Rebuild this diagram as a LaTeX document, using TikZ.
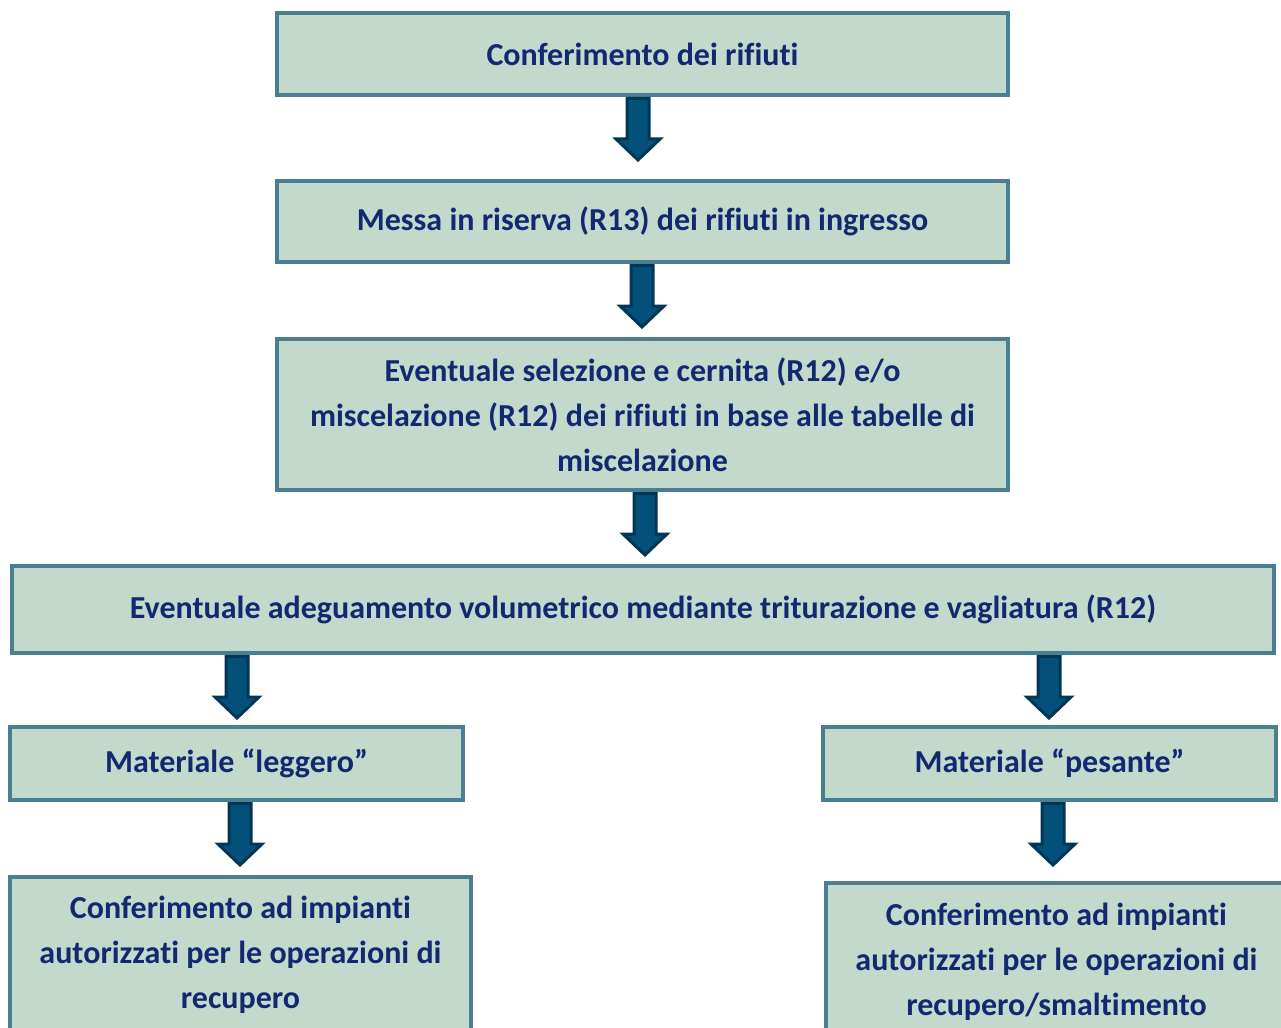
\documentclass[tikz,border=0pt]{standalone}
\usepackage{fontspec}
\setmainfont[Ligatures={NoCommon}]{Carlito}
\usetikzlibrary{calc}
\definecolor{boxfill}{RGB}{194,217,204}
\definecolor{boxline}{RGB}{74,126,145}
\definecolor{arrfill}{RGB}{3,80,122}
\definecolor{arrline}{RGB}{1,55,85}
\definecolor{txt}{RGB}{18,40,112}
\tikzset{
  box/.style={draw=boxline, fill=boxfill, line width=4pt, inner sep=0pt,
    align=center, text=txt, font=\fontsize{32}{45}\selectfont\bfseries},
  fatarr/.style={draw=arrline, fill=arrfill, line width=3pt, line join=miter}
}
% #1 = x position, #2 = source node, #3 = target node
\newcommand\fatarrow[3]{%
  \draw[fatarr] let \p1=(#2.south), \p2=(#3.north) in
    ({#1pt-11pt},{\y1-1.5pt}) -- ({#1pt+11pt},{\y1-1.5pt}) -- ({#1pt+11pt},{\y1-42pt}) --
    ({#1pt+22pt},{\y1-42pt}) -- ({#1pt},{\y1-63pt}) -- ({#1pt-22pt},{\y1-42pt}) --
    ({#1pt-11pt},{\y1-42pt}) -- cycle;}
\begin{document}
\begin{tikzpicture}[x=1pt,y=1pt]
\useasboundingbox[fill=white] (0,0) rectangle (1281,-1027);
\node[box, minimum width=731pt, minimum height=82pt] (b1) at (642.5,-54) {Conferimento dei rifiuti};
\node[box, minimum width=731pt, minimum height=81pt] (b2) at (642.5,-221.5) {Messa in riserva (R13) dei rifiuti in ingresso};
\node[box, minimum width=731pt, minimum height=151pt] (b3) at (642.5,-414.5)
  {Eventuale selezione e cernita (R12) e/o\\ miscelazione (R12) dei rifiuti in base alle tabelle di\\ miscelazione};
\node[box, minimum width=1262pt, minimum height=87pt] (b4) at (643,-609.5) {Eventuale adeguamento volumetrico mediante triturazione e vagliatura (R12)};
\node[box, minimum width=453pt, minimum height=73pt] (b5) at (236.5,-763.5) {Materiale “leggero”};
\node[box, minimum width=453pt, minimum height=73pt] (b6) at (1049.5,-763.5) {Materiale “pesante”};
\node[box, minimum width=461pt, minimum height=156pt] (b7) at (240.5,-955)
  {Conferimento ad impianti\\ autorizzati per le operazioni di\\ recupero};
\node[box, minimum width=461pt, minimum height=158pt] (b8) at (1056.5,-962)
  {Conferimento ad impianti\\ autorizzati per le operazioni di\\ recupero/smaltimento};
\fatarrow{638}{b1}{b2}
\fatarrow{642}{b2}{b3}
\fatarrow{645}{b3}{b4}
\fatarrow{237}{b4}{b5}
\fatarrow{1049}{b4}{b6}
\fatarrow{240}{b5}{b7}
\fatarrow{1053}{b6}{b8}
\end{tikzpicture}
\end{document}
